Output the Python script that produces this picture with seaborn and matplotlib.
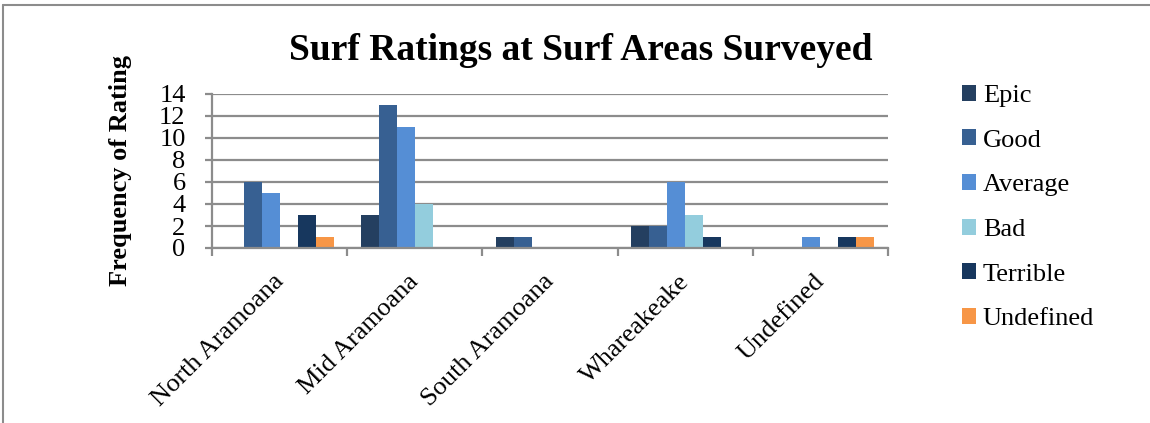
import matplotlib
matplotlib.use("Agg")
import matplotlib.pyplot as plt
from matplotlib.patches import Patch
from matplotlib.lines import Line2D
from matplotlib.transforms import ScaledTranslation
import seaborn as sns
import pandas as pd

# Survey areas and rating categories
areas = ["North Aramoana", "Mid Aramoana", "South Aramoana", "Whareakeake", "Undefined"]
ratings = ["Epic", "Good", "Average", "Bad", "Terrible", "Undefined"]

# Frequency of each rating per area
epic = [0, 3, 1, 2, 0]
good = [6, 13, 1, 2, 0]
average = [5, 11, 0, 6, 1]
bad = [0, 4, 0, 3, 0]
terrible = [3, 0, 0, 1, 1]
undefined = [1, 0, 0, 0, 1]

yticks = [0, 2, 4, 6, 8, 10, 12, 14]

colors = ["#243F60", "#376092", "#558ED5", "#93CDDD", "#17375E", "#F79646"]

series = [epic, good, average, bad, terrible, undefined]
rows = []
for rating, vals in zip(ratings, series):
    for area, v in zip(areas, vals):
        rows.append({"Area": area, "Rating": rating, "Count": v})
df = pd.DataFrame(rows)

sns.set_theme(style="white")
plt.rcParams["font.family"] = ["Liberation Serif", "DejaVu Serif"]
for key in ["text.color", "axes.labelcolor", "xtick.labelcolor", "ytick.labelcolor"]:
    plt.rcParams[key] = "black"

FS = 19

fig = plt.figure(figsize=(11.5, 4.23), dpi=100)
ax = fig.add_axes([212 / 1150, 1 - 248 / 423, (888 - 212) / 1150, (248 - 94) / 423])

sns.barplot(data=df, x="Area", y="Count", hue="Rating", order=areas,
            hue_order=ratings, palette=colors, errorbar=None, width=0.8,
            linewidth=0, saturation=1, ax=ax)

grid_c = "#8C8C8C"
ax.set_xlim(-0.5, len(areas) - 0.5)
ax.set_ylim(0, 14)
ax.set_yticks(yticks)
ax.set_yticklabels([str(t) for t in yticks], fontsize=FS)
ax.yaxis.grid(True, color=grid_c, linewidth=1.6)
ax.set_axisbelow(True)

for side in ["top", "right"]:
    ax.spines[side].set_visible(False)
for side in ["left", "bottom"]:
    ax.spines[side].set_color(grid_c)
    ax.spines[side].set_linewidth(1.6)

ax.tick_params(axis="y", which="major", length=5, width=1.6, color=grid_c,
               pad=14, labelcolor="black", left=True)

# Category labels at centers, tick marks at category boundaries
ax.set_xticks(range(len(areas)))
ax.set_xticklabels(areas, rotation=45, ha="right", rotation_mode="anchor",
                   fontsize=FS)
ax.tick_params(axis="x", which="major", length=0, pad=14, labelcolor="black")
shift = ScaledTranslation(-7 / 100, -3 / 100, fig.dpi_scale_trans)
for lbl in ax.get_xticklabels():
    lbl.set_transform(lbl.get_transform() + shift)
ax.set_xticks([i - 0.5 for i in range(len(areas) + 1)], minor=True)
ax.tick_params(axis="x", which="minor", length=6, width=1.6, color=grid_c,
               bottom=True)

ax.set_xlabel("")
ax.set_ylabel("Frequency of Rating", fontsize=FS, fontweight="bold")
ax.yaxis.set_label_coords((132 - 212) / 676, 0.5)

ax.get_legend().remove()
handles = [Patch(facecolor=c, edgecolor="none") for c in colors]
fig.legend(handles, ratings, loc="upper left",
           bbox_to_anchor=(951 / 1150, 1 - 74 / 423), frameon=False,
           fontsize=FS, handlelength=0.56, handleheight=0.56,
           handletextpad=0.25, labelspacing=0.845, borderaxespad=0)

fig.text(581 / 1150, 1 - 50 / 423, "Surf Ratings at Surf Areas Surveyed",
         ha="center", va="center", fontsize=27, fontweight="bold")

# Outer chart border
fig.add_artist(Line2D([3 / 1150, 1.0], [1 - 5 / 423, 1 - 5 / 423],
                      transform=fig.transFigure, color="#8C8C8C", linewidth=1.5))
fig.add_artist(Line2D([3 / 1150, 3 / 1150], [0.0, 1 - 5 / 423],
                      transform=fig.transFigure, color="#8C8C8C", linewidth=1.5))

fig.savefig("out.png", dpi=100, facecolor="white")
